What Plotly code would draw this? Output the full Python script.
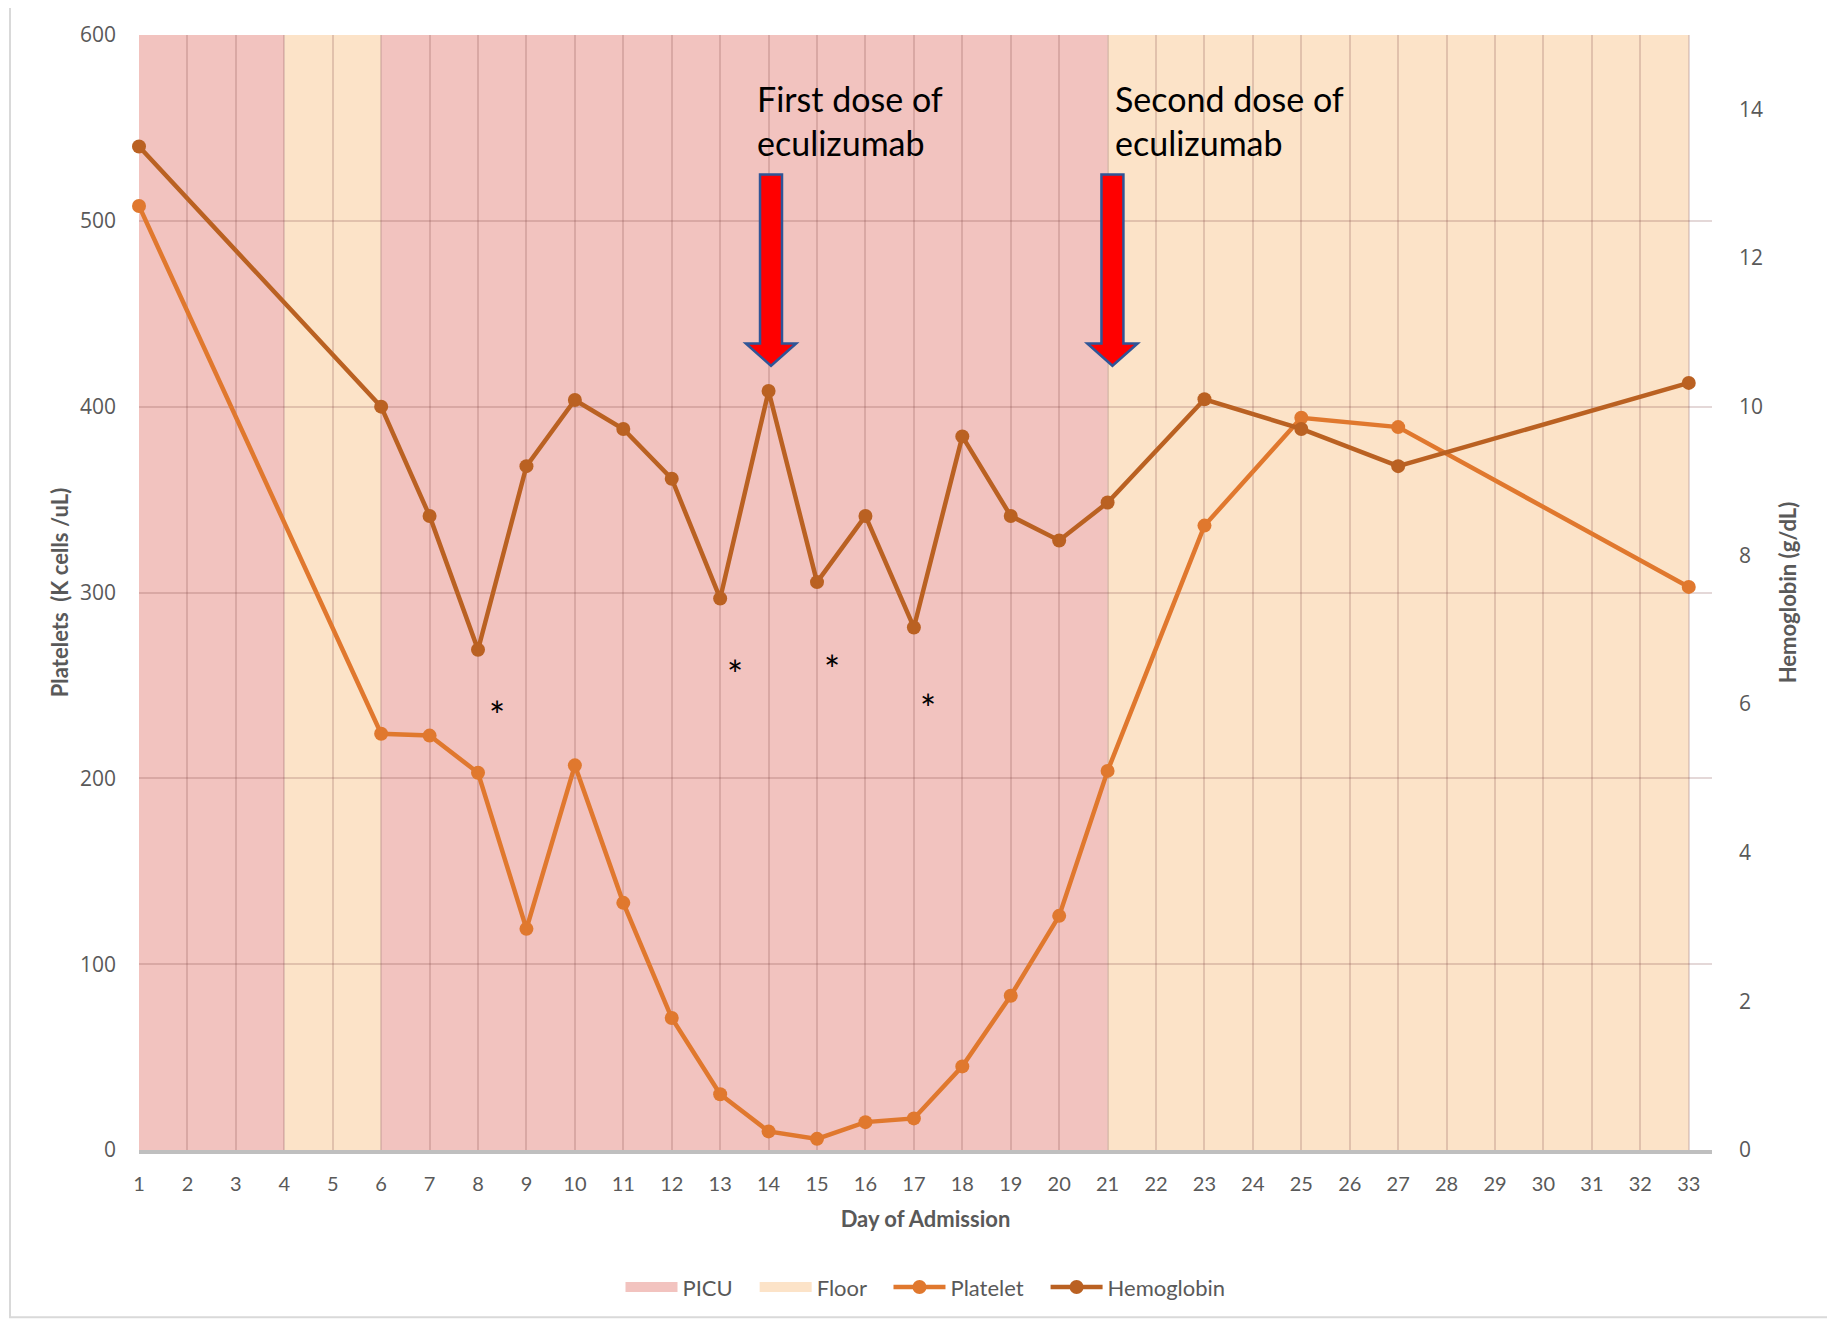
import plotly.graph_objects as go

# ---------------- data ----------------
days = [1, 6, 7, 8, 9, 10, 11, 12, 13, 14, 15, 16, 17, 18, 19, 20, 21, 23, 25, 27, 33]
platelets = [508, 224, 223, 203, 119, 207, 133, 71, 30, 10, 6, 15, 17, 45, 83, 126, 204, 336, 394, 389, 303]
hemoglobin = [13.5, 10.0, 8.53, 6.73, 9.2, 10.09, 9.7, 9.03, 7.42, 10.21, 7.64, 8.53, 7.03, 9.6, 8.53, 8.2, 8.71, 10.1, 9.7, 9.2, 10.32]

location_names = ["PICU", "Floor", "PICU", "Floor"]
location_start = [1, 4, 6, 21]
location_end = [4, 6, 21, 33]

dose_labels = ["First dose of<br>eculizumab", "Second dose of<br>eculizumab"]
dose_days = [14.05, 21.1]
dose_label_x = [13.72, 21.12]
dose_label_y = [578, 578]

asterisk_days = [8.4, 13.3, 15.3, 17.3]
asterisk_levels = [234, 256, 259, 238]

x_ticks = list(range(1, 34))
left_ticks = [0, 100, 200, 300, 400, 500, 600]
right_ticks = [0, 2, 4, 6, 8, 10, 12, 14]

# ---------------- styles ----------------
PICU_FILL = "#f2c3bf"
FLOOR_FILL = "#fce3c8"
PLT_COLOR = "#e0782e"
HB_COLOR = "#ba6122"
TXT = "#595959"
FONT = "Lato, 'Open Sans', sans-serif"
NUMFONT = "'Open Sans', Lato, sans-serif"
PAD = "\u00a0\u00a0\u00a0"

fig = go.Figure()

# legend proxies for the location bands
for name, fill, rank in [("PICU", PICU_FILL, 1), ("Floor", FLOOR_FILL, 2)]:
    fig.add_trace(go.Scatter(x=[None], y=[None], mode="lines", name=name + PAD,
                             line=dict(color=fill, width=14), legendrank=rank,
                             hoverinfo="skip"))

fig.add_trace(go.Scatter(
    x=days, y=platelets, name="Platelet" + PAD, mode="lines+markers",
    line=dict(color=PLT_COLOR, width=4.5),
    marker=dict(color=PLT_COLOR, size=14),
    legendrank=3, cliponaxis=False,
))
fig.add_trace(go.Scatter(
    x=days, y=hemoglobin, name="Hemoglobin", mode="lines+markers",
    line=dict(color=HB_COLOR, width=4.5),
    marker=dict(color=HB_COLOR, size=14),
    yaxis="y2", legendrank=4, cliponaxis=False,
))

# shaded location bands
for name, s, e in zip(location_names, location_start, location_end):
    fill = PICU_FILL if name == "PICU" else FLOOR_FILL
    fig.add_shape(
        type="rect", xref="x", yref="y", x0=s, x1=e, y0=0, y1=600,
        fillcolor=fill, line=dict(width=0), layer="below",
    )

# dose arrows (block arrows)
shaft_top, head_base, tip = 525, 434, 422
half_shaft, half_head = 0.227, 0.52
for d in dose_days:
    path = (f"M {d-half_shaft},{shaft_top} L {d+half_shaft},{shaft_top} "
            f"L {d+half_shaft},{head_base} L {d+half_head},{head_base} "
            f"L {d},{tip} L {d-half_head},{head_base} L {d-half_shaft},{head_base} Z")
    fig.add_shape(type="path", xref="x", yref="y", path=path,
                  fillcolor="#ff0000", line=dict(color="#2f5597", width=2.5),
                  layer="above")

# dose labels
for lbl, lx, ly in zip(dose_labels, dose_label_x, dose_label_y):
    fig.add_annotation(x=lx, y=ly, xref="x", yref="y", text=lbl,
                       showarrow=False, xanchor="left", yanchor="top", align="left",
                       font=dict(family=FONT, size=34, color="black"))

# asterisks
for ax_, ay_ in zip(asterisk_days, asterisk_levels):
    fig.add_annotation(x=ax_, y=ay_, xref="x", yref="y", text="*", showarrow=False,
                       font=dict(family=FONT, size=38, color="black"))

# outer border of chart
fig.add_shape(type="rect", xref="paper", yref="paper",
              x0=-0.082, x1=1.0757, y0=-0.15, y1=1.027,
              line=dict(color="#d9d9d9", width=2), fillcolor="rgba(0,0,0,0)", layer="below")

GRID = "rgba(120,60,60,0.2)"

fig.update_layout(
    width=1827, height=1312,
    margin=dict(l=131, r=123, t=27, b=170),
    paper_bgcolor="white", plot_bgcolor="white",
    font=dict(family=FONT, color=TXT),
    showlegend=True,
    legend=dict(orientation="h", x=0.5, xanchor="center", y=-0.123, yanchor="middle",
                itemwidth=52,
                font=dict(family=FONT, size=22, color=TXT), bgcolor="rgba(0,0,0,0)"),
    xaxis=dict(
        range=[1, 33.48], tickmode="array", tickvals=x_ticks,
        ticktext=[str(t) for t in x_ticks],
        showgrid=True, gridcolor=GRID, gridwidth=2.2, zeroline=False,
        showline=True, linecolor="#bfbfbf", linewidth=4,
        ticks="", ticklabelstandoff=13,
        tickfont=dict(family=FONT, size=20, color=TXT),
        title=dict(text="<b>Day of Admission</b>", standoff=19,
                   font=dict(family=FONT, size=22, color=TXT)),
    ),
    yaxis=dict(
        range=[0, 600], tickmode="array", tickvals=left_ticks,
        showgrid=True, gridcolor=GRID, gridwidth=2.2, zeroline=False,
        ticks="", ticklabelstandoff=22,
        tickfont=dict(family=NUMFONT, size=21, color=TXT),
        title=dict(text="<b>Platelets  (K cells /uL)</b>", standoff=5,
                   font=dict(family=FONT, size=22, color=TXT)),
    ),
    yaxis2=dict(
        range=[0, 15], overlaying="y", side="right", tickmode="array",
        tickvals=right_ticks, showgrid=False, zeroline=False, ticks="",
        ticklabelstandoff=26,
        tickfont=dict(family=NUMFONT, size=21, color=TXT),
        title=dict(text="<b>Hemoglobin (g/dL)</b>", standoff=18,
                   font=dict(family=FONT, size=22, color=TXT)),
    ),
)

fig.write_html("out.html")
